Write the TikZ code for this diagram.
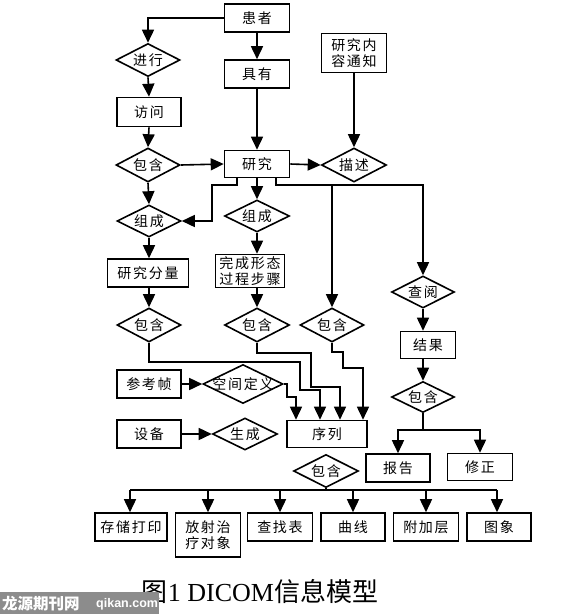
\documentclass[tikz,border=0pt]{standalone}
\usepackage{fontspec}
\setmainfont{Liberation Serif}
\newfontfamily\cjk[LetterSpace=12]{Noto Sans CJK SC}
\newfontfamily\cjkcap{Noto Sans CJK SC}
\newfontfamily\wmfont{Liberation Sans}
\usetikzlibrary{shapes.geometric,arrows.meta}
\definecolor{wmgray}{HTML}{8C8C8C}
\tikzset{
  lw/.style={line width=1.6pt},
  box/.style 2 args={draw,lw,rectangle,inner sep=0pt,align=center,
    minimum width=#1pt,minimum height=#2pt,
    font=\cjk\fontsize{14}{15.5}\selectfont},
  dia/.style 2 args={draw,lw,diamond,aspect=2,inner sep=0pt,
    minimum width=#1pt,minimum height=#2pt,
    font=\cjk\fontsize{14}{15.5}\selectfont},
  arr/.style={lw,-{Triangle[length=13pt,width=12pt]}},
  ln/.style={lw}
}
\begin{document}
\begin{tikzpicture}[x=1pt,y=-1pt]
\useasboundingbox (0,0) rectangle (570,614);
% boxes
\node[box={65}{28}] (huanzhe) at (257,18) {患者};
\node[box={65}{28}] (juyou) at (257,74) {具有};
\node[box={65}{39}] (tongzhi) at (354,53) {研究内\\容通知};
\node[box={64}{29}] (fangwen) at (149,112) {访问};
\node[box={65}{27}] (yanjiu) at (257,164) {研究};
\node[box={81}{28}] (fenliang) at (148,273) {研究分量};
\node[box={69}{33}] (wancheng) at (250,271) {完成形态\\过程步骤};
\node[box={55}{27}] (jieguo) at (428,345) {结果};
\node[box={64}{28}] (cankao) at (149,384) {参考帧};
\node[box={64}{28}] (shebei) at (149,434) {设备};
\node[box={80}{27}] (xulie) at (327,434) {序列};
\node[box={64}{28}] (baogao) at (398,468) {报告};
\node[box={65}{27}] (xiuzheng) at (480,467) {修正};
\node[box={72}{28}] (cunchu) at (131,527) {存储打印};
\node[box={65}{44}] (fangshe) at (208,535) {放射治\\疗对象};
\node[box={65}{28}] (chazhao) at (280,527) {查找表};
\node[box={64}{28}] (quxian) at (353,527) {曲线};
\node[box={65}{28}] (fujia) at (426,527) {附加层};
\node[box={64}{28}] (tuxiang) at (499,527) {图象};
% diamonds
\node[dia={64}{33}] (jinxing) at (148,60) {进行};
\node[dia={64}{34}] (baohanA) at (148,165) {包含};
\node[dia={65}{34}] (miaoshu) at (354,165) {描述};
\node[dia={64}{32}] (zuchengL) at (149,221) {组成};
\node[dia={65}{32}] (zuchengM) at (257,216) {组成};
\node[dia={64}{34}] (baohanL) at (149,325) {包含};
\node[dia={65}{34}] (baohanM) at (257,325) {包含};
\node[dia={64}{34}] (baohanR) at (332,325) {包含};
\node[dia={63}{32}] (chayue) at (423,292) {查阅};
\node[dia={63}{31}] (baohanRR) at (423,397) {包含};
\node[dia={80}{39},inner sep=-6pt] (kongjian) at (243,384) {空间定义};
\node[dia={65}{32}] (shengcheng) at (245,434) {生成};
\node[dia={65}{33}] (baohanB) at (326,471) {包含};
% junction points
\coordinate (jR) at (423,185);
\coordinate (jRR) at (423,430);
\coordinate (jB) at (326,490);
% connectors
\draw[arr] (huanzhe.west) -| (jinxing.north);
\draw[arr] (jinxing.south) -- (fangwen.north);
\draw[arr] (fangwen.south) -- (baohanA.north);
\draw[arr] (baohanA.south) -- (zuchengL.north);
\draw[arr] (baohanA.east) -- (yanjiu.west);
\draw[arr] (huanzhe.south) -- (juyou.north);
\draw[arr] (juyou.south) -- (yanjiu.north);
\draw[arr] (tongzhi.south) -- (miaoshu.north);
\draw[arr] (yanjiu.east) -- (miaoshu.west);
\draw[arr] ([xshift=-20pt]yanjiu.south) |- (212,185) |- (zuchengL.east);
\draw[arr] (yanjiu.south) -- (zuchengM.north);
\draw[arr] ([xshift=19pt]yanjiu.south) |- (jR) -- (chayue.north);
\draw[arr] (baohanR.north |- jR) -- (baohanR.north);
\draw[arr] (zuchengL.south) -- (fenliang.north -| zuchengL.south);
\draw[arr] (fenliang.south -| baohanL.north) -- (baohanL.north);
\draw[arr] (zuchengM.south) -- (zuchengM.south |- wancheng.north);
\draw[arr] (wancheng.south -| baohanM.north) -- (baohanM.north);
\draw[arr] (chayue.south) -- (chayue.south |- jieguo.north);
\draw[arr] (jieguo.south -| baohanRR.north) -- (baohanRR.north);
\draw[ln] (baohanRR.south) -- (jRR);
\draw[arr] (jRR) -| (baogao.north);
\draw[arr] (jRR) -| (xiuzheng.north);
\draw[arr] (baohanL.south) |- (300,362) |- (320,390) -- ([xshift=-7pt]xulie.north);
\draw[arr] (baohanM.south) |- (311,353) |- (340,387) -- ([xshift=13pt]xulie.north);
\draw[arr] (baohanR.south) |- (343,352) |- (363,368) -- ([xshift=36pt]xulie.north);
\draw[arr] (kongjian.east) -- (287,384) |- (296,397) -- ([xshift=-31pt]xulie.north);
\draw[arr] (cankao.east) -- (kongjian.west);
\draw[arr] (shebei.east) -- (shengcheng.west);
\draw[ln] (baohanB.south) -- (jB);
\draw[ln] ([xshift=-1pt]cunchu.north |- jB) -- ([xshift=-2pt]tuxiang.north |- jB);
\draw[arr] ([xshift=-1pt]cunchu.north |- jB) -- ([xshift=-1pt]cunchu.north);
\draw[arr] (fangshe.north |- jB) -- (fangshe.north);
\draw[arr] (chazhao.north |- jB) -- (chazhao.north);
\draw[arr] (quxian.north |- jB) -- (quxian.north);
\draw[arr] (fujia.north |- jB) -- (fujia.north);
\draw[arr] ([xshift=-2pt]tuxiang.north |- jB) -- ([xshift=-2pt]tuxiang.north);
% caption
\node[font=\fontsize{26}{29}\selectfont,inner sep=0pt] (caption) at (260,592)
  {\cjkcap 图\rmfamily 1 DICOM\cjkcap 信息模型};
% watermark
\fill[wmgray] (0,592) rectangle (159,614);
\node[anchor=west,text=white,inner sep=0pt,font=\cjkcap\bfseries\fontsize{15.5}{17}\selectfont] (wmA) at (2,604) {龙源期刊网};
\node[anchor=west,text=white,inner sep=0pt,font=\wmfont\bfseries\fontsize{12.5}{14}\selectfont] (wmB) at (96,604) {qikan.com};
\end{tikzpicture}
\end{document}
